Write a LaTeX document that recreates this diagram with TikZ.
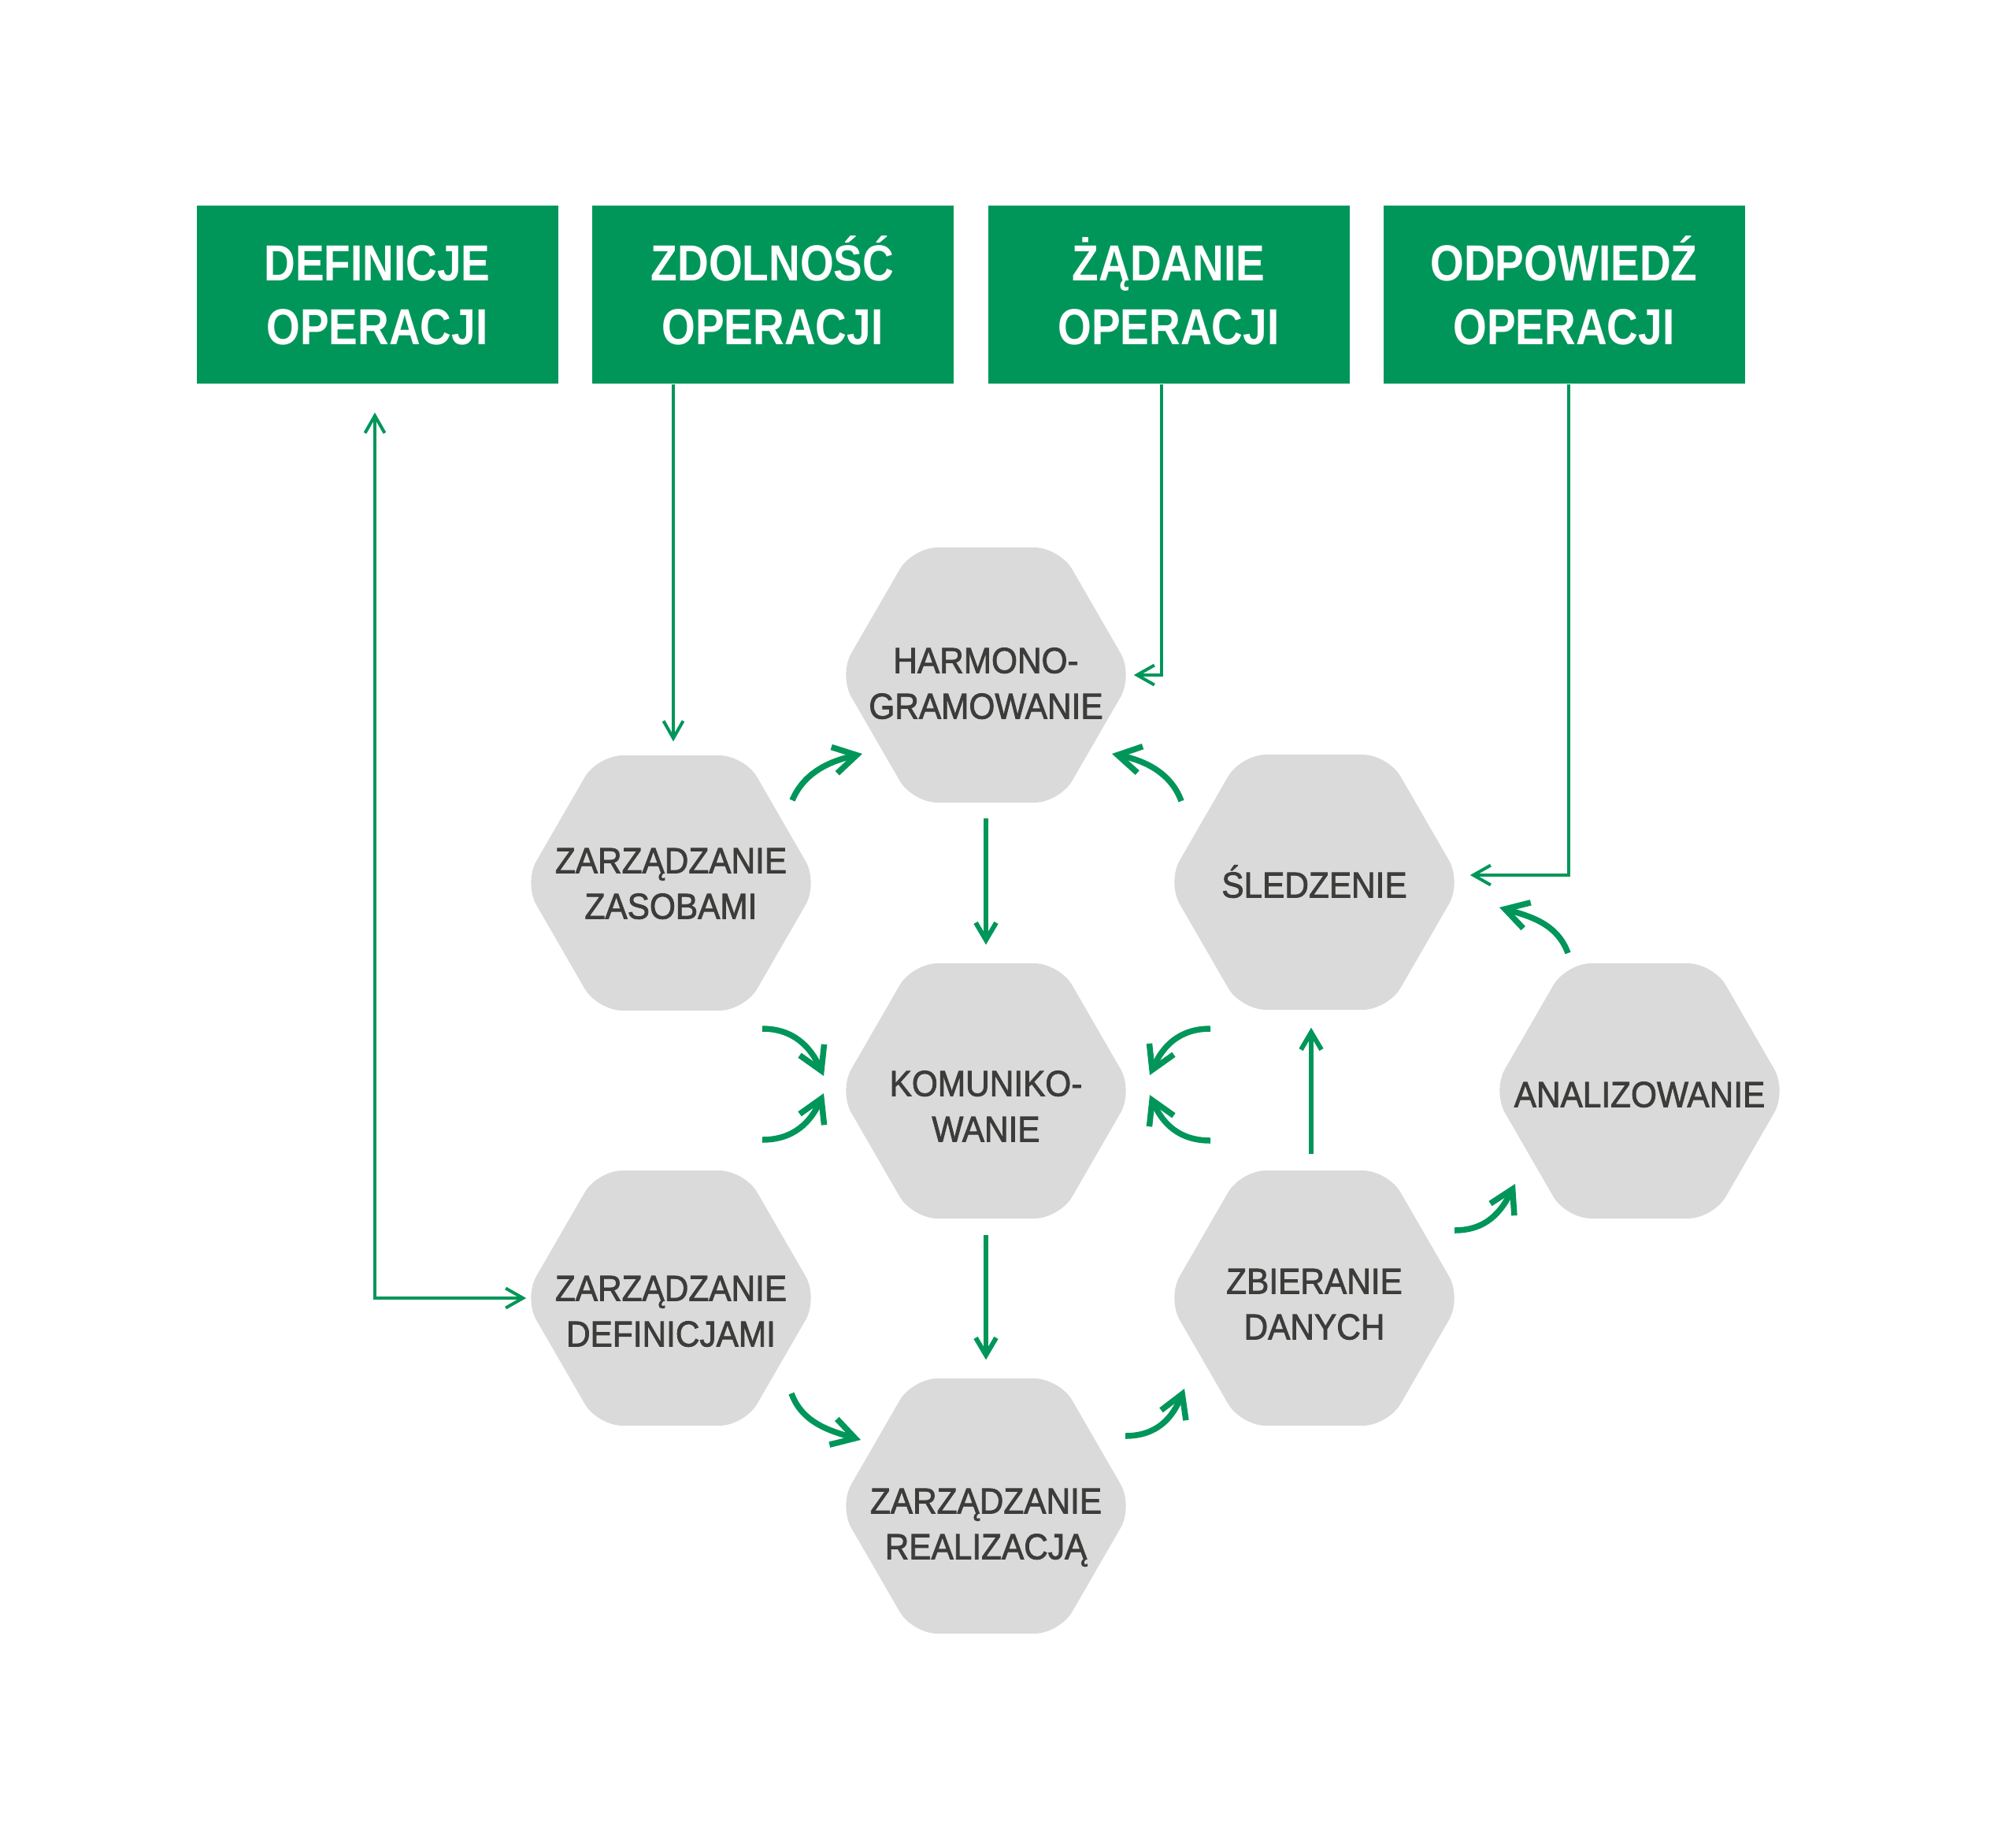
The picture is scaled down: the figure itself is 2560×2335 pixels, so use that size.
\documentclass[tikz,border=0pt]{standalone}
\usepackage{fontspec}
\usetikzlibrary{arrows.meta,shapes.geometric}
\newfontfamily\boxfont[FakeStretch=0.855]{Liberation Sans}
\newfontfamily\hexfont[FakeStretch=0.92,FakeBold=1.8]{Liberation Sans}
\definecolor{opgreen}{HTML}{00965A}
\definecolor{hexgray}{HTML}{DADADA}
\definecolor{hextxt}{HTML}{3C3C3B}
\newcommand\capln[1]{\raisebox{0pt}[0.716em][0pt]{#1}}
\begin{document}
\begin{tikzpicture}[x=0.1mm,y=-0.1mm,
  topbox/.style={rectangle, fill=opgreen, minimum width=45.9mm, minimum height=22.6mm, inner sep=0pt, text=white, align=center, font=\boxfont\bfseries\fontsize{18.3}{22.8}\selectfont},
  hexbox/.style={regular polygon, regular polygon sides=6, fill=hexgray, minimum size=37.4mm, inner sep=0pt, rounded corners=3.2mm},
  hexlabel/.style={inner sep=0pt, text=hextxt, align=center, font=\hexfont\fontsize{13.1}{16.5}\selectfont},
  thinconn/.style={draw=opgreen, line width=0.4mm, -{Straight Barb[length=2.2mm,width=2.5mm]}},
  thinboth/.style={draw=opgreen, line width=0.4mm, {Straight Barb[length=2.2mm,width=2.5mm]}-{Straight Barb[length=2.2mm,width=2.5mm]}},
  midconn/.style={draw=opgreen, line width=0.6mm, -{Straight Barb[length=2.2mm,width=2.6mm]}},
  curveconn/.style={draw=opgreen, line width=0.75mm, -{Straight Barb[length=2.9mm,width=3.4mm]}}
]
\path[use as bounding box] (0,0) rectangle (2560,2335);

% top boxes
\node[topbox] (b1) at (479,374) {\capln{DEFINICJE}\\\capln{OPERACJI}};
\node[topbox] (b2) at (981,374) {\capln{ZDOLNOŚĆ}\\\capln{OPERACJI}};
\node[topbox] (b3) at (1484,374) {\capln{ŻĄDANIE}\\\capln{OPERACJI}};
\node[topbox] (b4) at (1986,374) {\capln{ODPOWIEDŹ}\\\capln{OPERACJI}};

% hexagons
\node[hexbox] (harm) at (1252,857) {};
\node[hexbox] (zas)  at (852,1121) {};
\node[hexbox] (kom)  at (1252,1385) {};
\node[hexbox] (def)  at (852,1648) {};
\node[hexbox] (real) at (1252,1912) {};
\node[hexbox] (sled) at (1669,1120) {};
\node[hexbox] (zbi)  at (1669,1648) {};
\node[hexbox] (anal) at (2082,1385) {};

\node[hexlabel] (harmT) at ([yshift=-1mm]harm.center) {\capln{HARMONO-}\\\capln{GRAMOWANIE}};
\node[hexlabel] (zasT)  at (zas.center) {\capln{ZARZĄDZANIE}\\\capln{ZASOBAMI}};
\node[hexlabel] (komT)  at ([yshift=-1.9mm]kom.center) {\capln{KOMUNIKO-}\\\capln{WANIE}};
\node[hexlabel] (defT)  at ([yshift=-1.6mm]def.center) {\capln{ZARZĄDZANIE}\\\capln{DEFINICJAMI}};
\node[hexlabel] (realT) at ([yshift=-2.2mm]real.center) {\capln{ZARZĄDZANIE}\\\capln{REALIZACJĄ}};
\node[hexlabel] (sledT) at ([yshift=-0.3mm]sled.center) {\capln{ŚLEDZENIE}};
\node[hexlabel] (zbiT)  at ([yshift=-0.7mm]zbi.center) {\capln{ZBIERANIE}\\\capln{DANYCH}};
\node[hexlabel] (analT) at ([yshift=-0.4mm]anal.center) {\capln{ANALIZOWANIE}};

% thin connectors from the top boxes
\draw[thinboth] ([shift={(-0.3mm,-3.6mm)}]b1.south) |- ([xshift=0.4mm]def.west);
\draw[thinconn] ([xshift=0.3mm]b2.south -| zas.north) -- ([shift={(0.3mm,1.7mm)}]zas.north);
\draw[thinconn] ([xshift=-0.9mm]b3.south) |- (harm.east);
\draw[thinconn] ([xshift=0.6mm]b4.south) |- ([shift={(1mm,0.9mm)}]sled.east);

% straight arrows
\draw[midconn] ([yshift=-1.9mm]harm.south) -- ([yshift=2.3mm]kom.north);
\draw[midconn] ([yshift=-2mm]kom.south) -- ([yshift=2.3mm]real.north);
\draw[midconn] ([shift={(-0.4mm,2mm)}]zbi.north) -- ([shift={(-0.4mm,-2.2mm)}]sled.south);

% curved arrow end points
\coordinate (aS) at (1006,1016); \coordinate (aT) at (1095,957);
\coordinate (bS) at (1500,1017); \coordinate (bT) at (1412,957);
\coordinate (cS) at (968,1306);  \coordinate (cT) at (1046,1366);
\coordinate (dS) at (968,1447);  \coordinate (dT) at (1046,1388);
\coordinate (eS) at (1537,1306); \coordinate (eT) at (1460,1365);
\coordinate (fS) at (1537,1448); \coordinate (fT) at (1460,1390);
\coordinate (jS) at (1991,1210); \coordinate (jT) at (1904,1152);
\coordinate (kS) at (1005,1769); \coordinate (kT) at (1093,1828);
\coordinate (lS) at (1429,1823); \coordinate (lT) at (1504,1763);
\coordinate (mS) at (1847,1562); \coordinate (mT) at (1924,1503);

\draw[curveconn] (aS) .. controls +(15.6,-36.8) and +(-38.8,8.8) .. (aT);
\draw[curveconn] (bS) .. controls +(-13.6,-37.6) and +(38.8,8) .. (bT);
\draw[curveconn] (cS) .. controls +(40,0) and +(-16.4,-36.4) .. (cT);
\draw[curveconn] (dS) .. controls +(40,0) and +(-16.4,36.4) .. (dT);
\draw[curveconn] (eS) .. controls +(-40,0) and +(16.4,-36.4) .. (eT);
\draw[curveconn] (fS) .. controls +(-40,0) and +(16.4,36.4) .. (fT);
\draw[curveconn] (jS) .. controls +(-13.6,-37.6) and +(38.4,11.2) .. (jT);
\draw[curveconn] (kS) .. controls +(13.6,37.6) and +(-38.4,-11.2) .. (kT);
\draw[curveconn] (lS) .. controls +(40,0) and +(-15.2,37.2) .. (lT);
\draw[curveconn] (mS) .. controls +(40,0) and +(-18,36) .. (mT);
\end{tikzpicture}
\end{document}
